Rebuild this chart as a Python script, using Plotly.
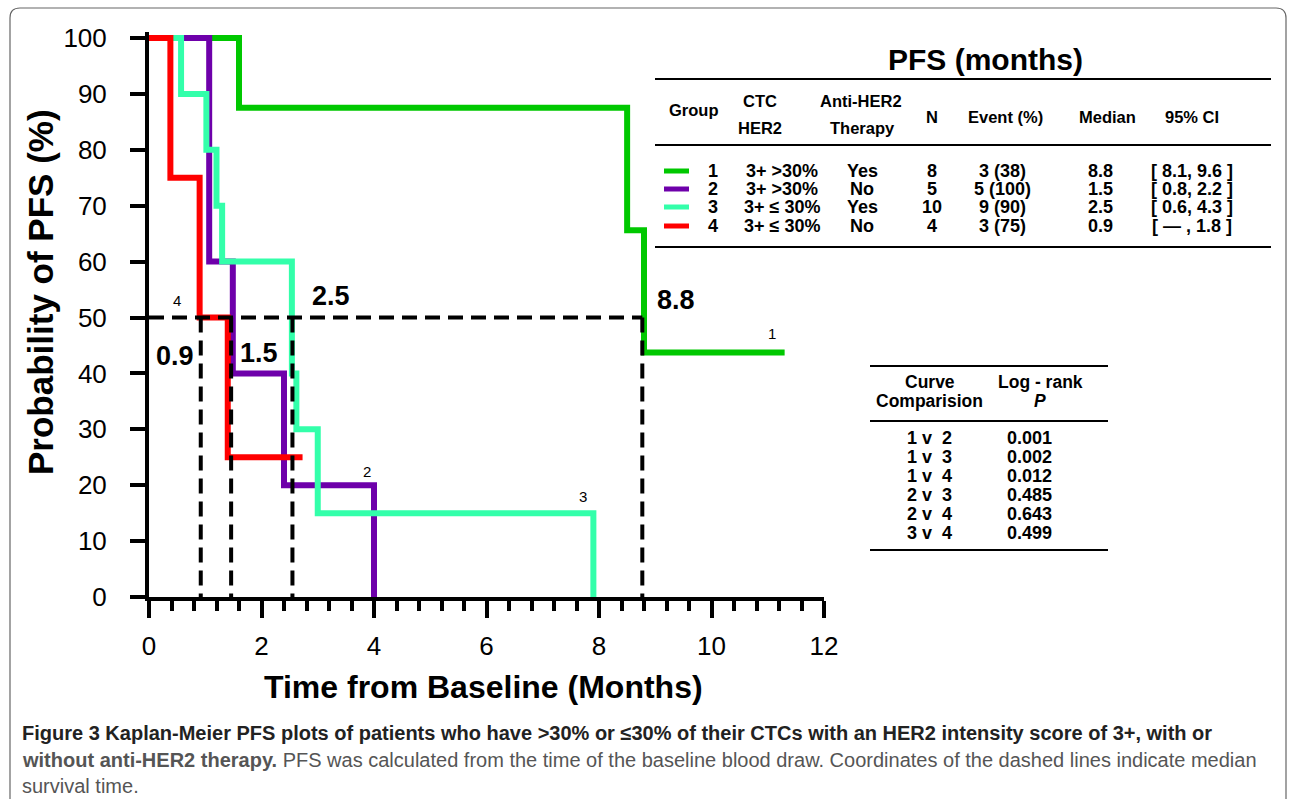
import plotly.graph_objects as go

W, H = 1290, 799

# ---------------- data ----------------
group_ids = ["1", "2", "3", "4"]
colors = ["#00C800", "#6E00AA", "#33FFAA", "#FF0000"]

g1_t = [0, 1.6, 8.5, 8.8, 11.3]
g1_s = [100, 87.5, 65.6, 43.75, 43.75]
g2_t = [0, 1.07, 1.49, 2.4, 4.0]
g2_s = [100, 60, 40, 20, 0]
g3_t = [0, 0.57, 1.02, 1.2, 1.3, 2.54, 2.62, 3.0, 7.9]
g3_s = [100, 90, 80, 70, 60, 40, 30, 15, 0]
g4_t = [0, 0.38, 0.9, 1.4, 2.73]
g4_s = [100, 75, 50, 25, 25]

median_x = [0.92, 1.46, 2.55, 8.77]
median_labels = ["0.9", "1.5", "2.5", "8.8"]
median_label_x = [0.46, 1.95, 3.24, 9.37]
median_label_y = [43.1, 43.6, 53.8, 53.1]

curve_label_x = [11.08, 3.87, 7.72, 0.50]
curve_label_y = [47.2, 22.4, 17.9, 53.1]

y_ticks = list(range(0, 101, 10))
x_ticks = list(range(0, 13, 2))

# PFS table
tbl_her2 = ["3+ >30%", "3+ >30%", "3+ ≤ 30%", "3+ ≤ 30%"]
tbl_therapy = ["Yes", "No", "Yes", "No"]
tbl_n = ["8", "5", "10", "4"]
tbl_event = ["3 (38)", "5 (100)", "9 (90)", "3 (75)"]
tbl_median = ["8.8", "1.5", "2.5", "0.9"]
tbl_ci = ["[ 8.1, 9.6 ]", "[ 0.8, 2.2 ]", "[ 0.6, 4.3 ]", "[ — , 1.8 ]"]

# log-rank table
lr_comp = ["1 v  2", "1 v  3", "1 v  4", "2 v  3", "2 v  4", "3 v  4"]
lr_p = ["0.001", "0.002", "0.012", "0.485", "0.643", "0.499"]

caption_1 = "<b>Figure 3 Kaplan-Meier PFS plots of patients who have >30% or ≤30% of their CTCs with an HER2 intensity score of 3+, with or</b>"
caption_2 = "<b>without anti-HER2 therapy.</b> PFS was calculated from the time of the baseline blood draw. Coordinates of the dashed lines indicate median"
caption_3 = "survival time."

# ---------------- helpers ----------------
FONT = "Liberation Sans, Arial, sans-serif"
CAPFONT = "Liberation Sans, Arial, sans-serif"


def px(x, y):
    return x / W, 1 - y / H


annotations = []
shapes = []


def text(x, y, s, size=15, bold=True, xanchor="center", color="black", family=FONT, angle=0):
    X, Y = px(x, y)
    annotations.append(dict(x=X, y=Y, xref="paper", yref="paper", text=(f"<b>{s}</b>" if bold else s),
                            showarrow=False, xanchor=xanchor, yanchor="middle", textangle=angle,
                            font=dict(family=family, size=size, color=color)))


def hline(x0, x1, y, width=2, color="black"):
    X0, Y = px(x0, y)
    X1, _ = px(x1, y)
    shapes.append(dict(type="line", xref="paper", yref="paper", x0=X0, x1=X1, y0=Y, y1=Y,
                       line=dict(color=color, width=width)))


fig = go.Figure()

series = [(g1_t, g1_s), (g2_t, g2_s), (g3_t, g3_s), (g4_t, g4_s)]
for (t, s), c, gid in zip(series, colors, group_ids):
    fig.add_trace(go.Scatter(x=t, y=s, mode="lines", line=dict(color=c, width=6, shape="hv"),
                             name=gid, showlegend=False, hoverinfo="skip"))

# median dashed lines
DASH = "15px,8px"
fig.add_trace(go.Scatter(x=[0, max(median_x)], y=[50, 50], mode="lines",
                         line=dict(color="black", width=4, dash=DASH), showlegend=False, hoverinfo="skip"))
for mx in median_x:
    fig.add_trace(go.Scatter(x=[mx, mx], y=[50, 0], mode="lines",
                             line=dict(color="black", width=4, dash=DASH), showlegend=False, hoverinfo="skip"))

# labels on plot
for lx, ly, lab in zip(median_label_x, median_label_y, median_labels):
    annotations.append(dict(x=lx, y=ly, xref="x", yref="y", text=f"<b>{lab}</b>", showarrow=False,
                            font=dict(family=FONT, size=27, color="black")))
for lx, ly, lab in zip(curve_label_x, curve_label_y, group_ids):
    annotations.append(dict(x=lx, y=ly, xref="x", yref="y", text=lab, showarrow=False,
                            font=dict(family=FONT, size=15, color="black")))

# axis titles
text(40, 292, "Probability of PFS (%)", size=35, angle=-90)
text(483, 687, "Time from Baseline (Months)", size=32)

# PFS table
text(985, 60, "PFS (months)", size=30)
hline(655, 1271, 79)
hline(655, 1271, 145)
hline(655, 1271, 247)
HS = 16.5
text(694, 110, "Group", size=HS)
text(760, 101, "CTC", size=HS)
text(760, 128, "HER2", size=HS)
text(861, 101, "Anti-HER2", size=HS)
text(862, 128, "Therapy", size=HS)
text(932, 117, "N", size=HS)
text(1005, 117, "Event (%)", size=HS)
text(1107, 117, "Median", size=HS)
text(1192, 117, "95% CI", size=HS)
row_y = [171, 189, 207, 226]
RS = 18
for i, ry in enumerate(row_y):
    X0, Y = px(664, ry)
    X1, _ = px(689, ry)
    shapes.append(dict(type="line", xref="paper", yref="paper", x0=X0, x1=X1, y0=Y, y1=Y,
                       line=dict(color=colors[i], width=5)))
    text(713, ry, group_ids[i], size=RS)
    text(782, ry, tbl_her2[i], size=RS)
    text(862, ry, tbl_therapy[i], size=RS)
    text(932, ry, tbl_n[i], size=RS)
    text(1002, ry, tbl_event[i], size=RS)
    text(1100, ry, tbl_median[i], size=RS)
    text(1192, ry, tbl_ci[i], size=RS)

# log-rank table
hline(870, 1108, 366)
hline(870, 1108, 421)
hline(870, 1108, 550)
text(930, 382, "Curve", size=17.5)
text(930, 401, "Comparision", size=17.5)
text(1040, 382, "Log - rank", size=17.5)
text(1040, 401, "<i>P</i>", size=17.5)
for i, (c, p) in enumerate(zip(lr_comp, lr_p)):
    ry = 438 + 18.9 * i
    text(930, ry, c, size=18)
    text(1029, ry, p, size=18)

# caption
text(20, 733, caption_1, size=20, bold=False, xanchor="left", family=CAPFONT, color="#222")
text(20, 760, caption_2, size=20, bold=False, xanchor="left", family=CAPFONT, color="#555")
text(20, 786, caption_3, size=20, bold=False, xanchor="left", family=CAPFONT, color="#555")

# rounded frame (bottom edge lies below the visible page, as in the reference)
L, T, R, B, r = 10, 8, 1286, 815, 10


def pp(x, y):
    X, Y = px(x, y)
    return f"{X:.5f},{Y:.5f}"


path = (f"M {pp(L + r, T)} L {pp(R - r, T)} Q {pp(R, T)} {pp(R, T + r)} L {pp(R, B - r)} "
        f"Q {pp(R, B)} {pp(R - r, B)} L {pp(L + r, B)} Q {pp(L, B)} {pp(L, B - r)} "
        f"L {pp(L, T + r)} Q {pp(L, T)} {pp(L + r, T)} Z")
shapes.append(dict(type="path", xref="paper", yref="paper", path=path, line=dict(color="#666", width=1.2)))

y0_px, y101_px = 597, 38 - 5.59
fig.update_layout(
    width=W, height=H, margin=dict(l=0, r=0, t=0, b=0, autoexpand=False),
    paper_bgcolor="white", plot_bgcolor="white",
    annotations=annotations, shapes=shapes,
    xaxis=dict(domain=[149 / W, 824 / W], range=[0, 12], tickvals=x_ticks, showgrid=False, zeroline=False,
               showline=True, linecolor="black", linewidth=4, ticks="outside", ticklen=17, tickwidth=4,
               tickcolor="black", ticklabelstandoff=6,
               minor=dict(dtick=0.4, tick0=0, ticks="outside", ticklen=10, tickwidth=4, tickcolor="black"),
               tickfont=dict(family=FONT, size=26, color="black"), tickprefix="<b>", ticksuffix="</b>"),
    yaxis=dict(domain=[(H - y0_px) / H, (H - y101_px) / H], range=[0, 101], tickvals=y_ticks, showgrid=False,
               zeroline=False, showline=True, linecolor="black", linewidth=4, ticks="outside", ticklen=15,
               tickwidth=4, tickcolor="black", ticklabelstandoff=18,
               tickfont=dict(family=FONT, size=26, color="black"), tickprefix="<b>", ticksuffix="</b>"),
)

fig.write_html("out.html", config={"displayModeBar": False, "responsive": False},
               post_script="document.body.style.margin='0';document.body.style.overflow='hidden';")
